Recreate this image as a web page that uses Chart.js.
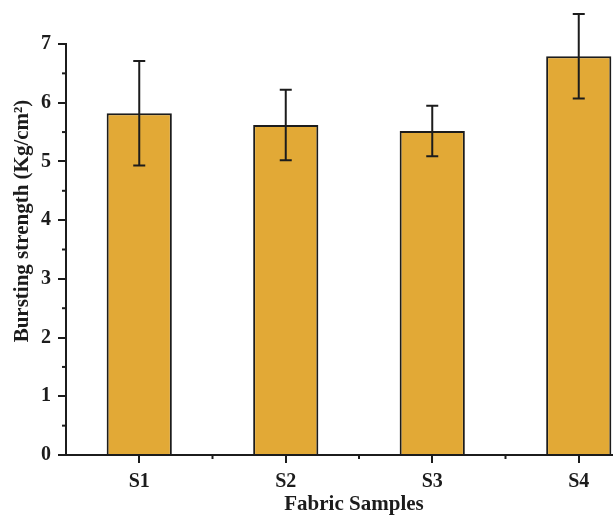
<!DOCTYPE html>
<html>
<head>
<meta charset="utf-8">
<script src="https://cdn.jsdelivr.net/npm/chart.js@4.4.0/dist/chart.umd.min.js"></script>
<style>
html,body{margin:0;padding:0;background:#fff;overflow:hidden;width:613px;height:517px;}
canvas{display:block;}
</style>
</head>
<body>
<canvas id="c" width="660" height="517"></canvas>
<script>
const categories = ["S1", "S2", "S3", "S4"];
const strength = [5.82, 5.62, 5.52, 6.79];
const errors = [0.89, 0.60, 0.43, 0.72];
const yTicks = [0, 1, 2, 3, 4, 5, 6, 7];
const xTitle = "Fabric Samples";
const yTitle = "Bursting strength (Kg/cm\u00B2)";

const FONT = '"Liberation Serif", "Times New Roman", serif';
const INK = '#1c1c1c';

const extras = {
  id: 'extras',
  afterDatasetsDraw(chart) {
    const ctx = chart.ctx;
    const x = chart.scales.x, y = chart.scales.y;
    ctx.save();
    ctx.strokeStyle = INK;
    ctx.lineWidth = 2;
    strength.forEach((v, i) => {
      const cx = x.getPixelForValue(i);
      const yt = y.getPixelForValue(v + errors[i]);
      const yb = y.getPixelForValue(v - errors[i]);
      ctx.beginPath();
      ctx.moveTo(cx, yt); ctx.lineTo(cx, yb);
      ctx.moveTo(cx - 6, yt); ctx.lineTo(cx + 6, yt);
      ctx.moveTo(cx - 6, yb); ctx.lineTo(cx + 6, yb);
      ctx.stroke();
    });
    ctx.restore();
  },
  afterDraw(chart) {
    const ctx = chart.ctx;
    const x = chart.scales.x, y = chart.scales.y;
    const ca = chart.chartArea;
    ctx.save();
    ctx.strokeStyle = INK;
    ctx.lineWidth = 2;
    for (let i = 0; i < yTicks.length - 1; i++) {
      const py = y.getPixelForValue(yTicks[i] + 0.5);
      ctx.beginPath();
      ctx.moveTo(ca.left - 4, py); ctx.lineTo(ca.left, py);
      ctx.stroke();
    }
    for (let i = 0; i < categories.length - 1; i++) {
      const px = (x.getPixelForValue(i) + x.getPixelForValue(i + 1)) / 2;
      ctx.beginPath();
      ctx.moveTo(px, ca.bottom); ctx.lineTo(px, ca.bottom + 4);
      ctx.stroke();
    }
    ctx.fillStyle = INK;
    ctx.font = 'bold 21px ' + FONT;
    ctx.textAlign = 'center';
    ctx.textBaseline = 'alphabetic';
    ctx.fillText(xTitle, 354, 510);
    ctx.translate(28, 221);
    ctx.rotate(-Math.PI / 2);
    ctx.fillText(yTitle, 0, 0);
    ctx.restore();
  }
};

new Chart(document.getElementById('c'), {
  type: 'bar',
  data: {
    labels: categories,
    datasets: [{
      data: strength,
      backgroundColor: '#E2A936',
      borderColor: INK,
      borderWidth: 2,
      barPercentage: 0.445,
      categoryPercentage: 1.0
    }]
  },
  options: {
    responsive: false,
    animation: false,
    devicePixelRatio: 1,
    layout: { padding: { top: 44, right: 8, left: 0, bottom: 0 } },
    plugins: { legend: { display: false }, tooltip: { enabled: false } },
    scales: {
      x: {
        afterFit(s) { s.height = 62; },
        grid: { offset: false, drawOnChartArea: false, tickLength: 8, color: INK, lineWidth: 2 },
        border: { display: true, color: INK, width: 2 },
        ticks: { color: INK, padding: 7, font: { family: FONT, size: 20, weight: 'bold' } }
      },
      y: {
        min: 0, max: 7,
        afterFit(s) { s.width = 66; },
        afterBuildTicks(s) { s.ticks = yTicks.map(v => ({ value: v })); },
        grid: { drawOnChartArea: false, tickLength: 8, color: INK, lineWidth: 2 },
        border: { display: true, color: INK, width: 2 },
        ticks: { color: INK, padding: 7, font: { family: FONT, size: 20, weight: 'bold' } }
      }
    }
  },
  plugins: [extras]
});
</script>
</body>
</html>
